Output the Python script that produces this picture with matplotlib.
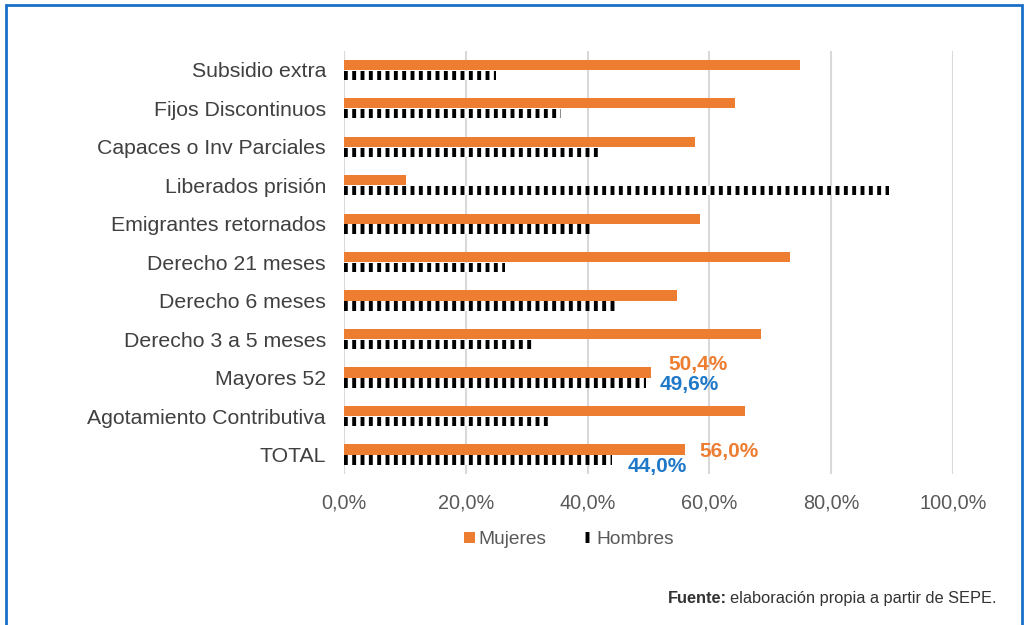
import matplotlib
matplotlib.use("Agg")
from matplotlib import pyplot as plt
from matplotlib.patches import Rectangle, Patch

plt.rcParams['font.family'] = ['Liberation Sans', 'DejaVu Sans']
plt.rcParams['hatch.linewidth'] = 2.8

categorias = ["Subsidio extra", "Fijos Discontinuos", "Capaces o Inv Parciales",
              "Liberados prisión", "Emigrantes retornados", "Derecho 21 meses",
              "Derecho 6 meses", "Derecho 3 a 5 meses", "Mayores 52",
              "Agotamiento Contributiva", "TOTAL"]
mujeres = [0.749, 0.642, 0.576, 0.102, 0.585, 0.732, 0.547, 0.684, 0.504, 0.659, 0.560]
hombres = [0.250, 0.356, 0.422, 0.895, 0.409, 0.265, 0.449, 0.314, 0.496, 0.337, 0.440]
ticks = [0, 0.2, 0.4, 0.6, 0.8, 1.0]
tick_labels = ["0,0%", "20,0%", "40,0%", "60,0%", "80,0%", "100,0%"]

naranja = "#ED7D31"
azul = "#1F78C8"

fig = plt.figure(figsize=(10.29, 6.25), dpi=100)
ax = fig.add_axes([0.3343, 0.2416, 0.5918, 0.6772])

y = list(range(len(categorias)))
ax.barh([i - 0.135 for i in y], mujeres, height=0.27, color=naranja, zorder=3)
ax.barh([i + 0.135 for i in y], hombres, height=0.24, color="white", edgecolor="black",
        linewidth=0, hatch="||", zorder=3)

# etiquetas de datos (Mayores 52 y TOTAL)
i_m = categorias.index("Mayores 52")
i_t = categorias.index("TOTAL")
fs_lab = 15
ax.text(mujeres[i_m] + 0.028, i_m - 0.35, "50,4%", color=naranja, fontsize=fs_lab,
        fontweight="bold", ha="left", va="center", zorder=4)
ax.text(hombres[i_m] + 0.023, i_m + 0.18, "49,6%", color=azul, fontsize=fs_lab,
        fontweight="bold", ha="left", va="center", zorder=4)
ax.text(mujeres[i_t] + 0.023, i_t - 0.09, "56,0%", color=naranja, fontsize=fs_lab,
        fontweight="bold", ha="left", va="center", zorder=4)
ax.text(hombres[i_t] + 0.025, i_t + 0.3, "44,0%", color=azul, fontsize=fs_lab,
        fontweight="bold", ha="left", va="center", zorder=4)

ax.set_ylim(len(categorias) - 0.5, -0.5)
ax.set_xlim(0, 1.0)
ax.set_yticks(y)
ax.set_yticklabels(categorias, fontsize=15.3, color="#404040")
ax.set_xticks(ticks)
ax.set_xticklabels(tick_labels, fontsize=14.3, color="#595959")
ax.tick_params(axis="y", length=0, pad=13)
ax.tick_params(axis="x", length=0, pad=14)
for s in ax.spines.values():
    s.set_visible(False)
ax.grid(axis="x", color="#D9D9D9", linewidth=1.5, zorder=0)
ax.set_axisbelow(True)

handles = [Patch(facecolor=naranja, label="Mujeres"),
           Patch(facecolor="white", edgecolor="black", linewidth=0, hatch="||", label="Hombres")]
fig.legend(handles=handles, loc="center", bbox_to_anchor=(0.553, 0.136), ncol=2,
           frameon=False, fontsize=13.8, handlelength=0.55, handleheight=0.55,
           handletextpad=0.2, columnspacing=1.85, labelcolor="#595959")

t = fig.text(997 / 1029, 0.043, "elaboración propia a partir de SEPE.", fontsize=11.8,
             color="#333333", ha="right", va="center")
fig.canvas.draw()
bb = t.get_window_extent()
fig.text((bb.x0 - 4) / 1029, 0.043, "Fuente:", fontsize=11.8, fontweight="bold",
         color="#333333", ha="right", va="center")

fig.patches.append(Rectangle((6 / 1029, -0.05), 1016 / 1029, 1 - 5 / 625 + 0.05,
                             transform=fig.transFigure, fill=False,
                             edgecolor="#1A6FC9", linewidth=2))

fig.savefig("out.png", dpi=100)
